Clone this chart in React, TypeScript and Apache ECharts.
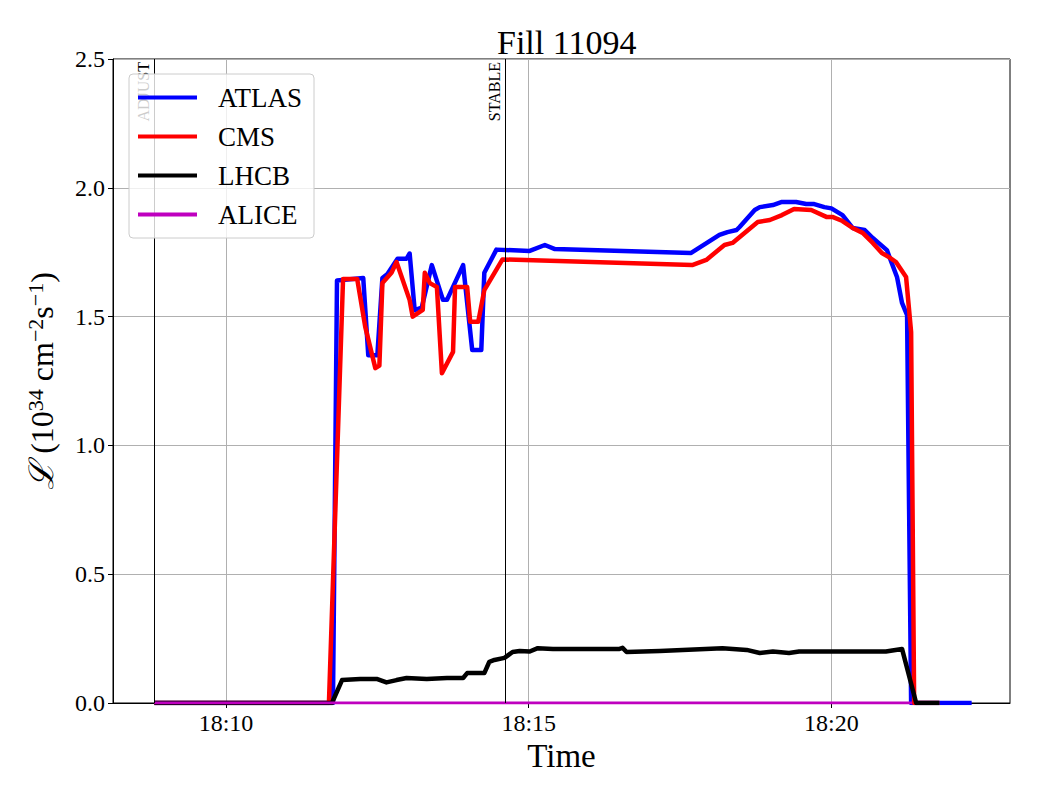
import React, { useEffect, useRef } from "react";
import * as echarts from "echarts";

const FONT = "'Liberation Serif', 'DejaVu Serif', 'Times New Roman', serif";

const chartTitle = "Fill 11094";
const xTickLabels = ["18:10", "18:15", "18:20"];
const yTicks = [0, 0.5, 1.0, 1.5, 2.0, 2.5];

const modeLines = ["ADJUST", "STABLE"];
const modeTimes = ["18:08:49", "18:14:37"];

const atlasTime = [
  "18:08:49", "18:11:46", "18:11:50", "18:12:16", "18:12:21", "18:12:30", "18:12:35", "18:12:40",
  "18:12:50", "18:12:59", "18:13:02", "18:13:07", "18:13:14", "18:13:24", "18:13:35", "18:13:39",
  "18:13:55", "18:14:04", "18:14:13", "18:14:16", "18:14:28", "18:15:01", "18:15:16", "18:15:26",
  "18:17:41", "18:18:09", "18:18:17", "18:18:26", "18:18:29", "18:18:44", "18:18:49", "18:19:02",
  "18:19:11", "18:19:25", "18:19:35", "18:19:43", "18:19:53", "18:20:00", "18:20:11", "18:20:21",
  "18:20:33", "18:20:41", "18:20:55", "18:21:05", "18:21:10", "18:21:15", "18:21:19", "18:22:19",
];
const atlasLumi = [
  0, 0, 1.64, 1.65, 1.35, 1.35, 1.65, 1.665,
  1.725, 1.725, 1.745, 1.525, 1.535, 1.70, 1.565, 1.565,
  1.70, 1.37, 1.37, 1.67, 1.76, 1.755, 1.778, 1.762,
  1.747, 1.817, 1.828, 1.836, 1.848, 1.914, 1.925, 1.933,
  1.945, 1.945, 1.937, 1.937, 1.925, 1.92, 1.894, 1.844,
  1.836, 1.805, 1.758, 1.654, 1.553, 1.506, 0, 0,
];

const cmsTime = [
  "18:08:49", "18:11:42", "18:11:56", "18:12:10", "18:12:18", "18:12:28", "18:12:32", "18:12:35",
  "18:12:44", "18:12:49", "18:13:02", "18:13:05", "18:13:15", "18:13:17", "18:13:22", "18:13:29",
  "18:13:34", "18:13:45", "18:13:47", "18:13:59", "18:14:02", "18:14:10", "18:14:16", "18:14:34",
  "18:17:42", "18:17:56", "18:18:14", "18:18:22", "18:18:47", "18:18:59", "18:19:11", "18:19:23",
  "18:19:40", "18:19:55", "18:20:01", "18:20:11", "18:20:21", "18:20:31", "18:20:41", "18:20:50",
  "18:20:57", "18:21:04", "18:21:14", "18:21:19", "18:21:22", "18:21:47",
];
const cmsLumi = [
  0, 0, 1.646, 1.646, 1.46, 1.30, 1.31, 1.63,
  1.67, 1.712, 1.564, 1.50, 1.526, 1.67, 1.63, 1.615,
  1.28, 1.363, 1.615, 1.615, 1.48, 1.48, 1.603, 1.722,
  1.70, 1.72, 1.778, 1.786, 1.867, 1.875, 1.894, 1.918,
  1.914, 1.887, 1.887, 1.871, 1.844, 1.825, 1.786, 1.747,
  1.731, 1.712, 1.654, 1.44, 0, 0,
];

const lhcbTime = [
  "18:08:49", "18:11:45", "18:11:55", "18:12:13", "18:12:30", "18:12:39", "18:12:49", "18:12:59",
  "18:13:19", "18:13:39", "18:13:55", "18:13:59", "18:14:16", "18:14:21", "18:14:26", "18:14:36",
  "18:14:44", "18:14:51", "18:15:01", "18:15:09", "18:15:24", "18:16:03", "18:16:30", "18:16:33",
  "18:16:37", "18:17:10", "18:18:12", "18:18:36", "18:18:49", "18:19:02", "18:19:18", "18:19:28",
  "18:20:54", "18:21:10", "18:21:24", "18:21:47",
];
const lhcbLumi = [
  0, 0, 0.089, 0.093, 0.093, 0.08, 0.089, 0.097,
  0.093, 0.097, 0.097, 0.116, 0.116, 0.16, 0.167, 0.175,
  0.198, 0.202, 0.2, 0.213, 0.21, 0.21, 0.21, 0.214,
  0.198, 0.202, 0.213, 0.206, 0.194, 0.2, 0.194, 0.2,
  0.2, 0.21, 0, 0,
];

const aliceTime = ["18:08:49", "18:21:20"];
const aliceLumi = [0, 0];

const toSec = (t: string) => {
  const [h, m, s] = t.split(":").map(Number);
  return (h - 18) * 3600 + m * 60 + s;
};
const pairs = (ts: string[], vs: number[]) => ts.map((t, i) => [toSec(t), vs[i]]);
const xTickValues = xTickLabels.map((t) => toSec(t + ":00"));
const fmtTime = (v: number) => "18:" + String(Math.floor(v / 60)).padStart(2, "0");

export default function App() {
  const ref = useRef<HTMLDivElement>(null);
  useEffect(() => {
    if (!ref.current) return;
    const chart = echarts.init(ref.current, undefined, { renderer: "svg" });
    const line = (name: string, color: string, data: number[][], width: number, extra: any = {}) => ({
      name,
      type: "line",
      data,
      symbol: "none",
      showSymbol: false,
      lineStyle: { color, width, join: "round" },
      itemStyle: { color },
      emphasis: { disabled: true },
      ...extra,
    });
    chart.setOption({
      animation: false,
      textStyle: { fontFamily: FONT },
      title: {
        text: chartTitle,
        left: 492,
        top: 20,
        textStyle: { fontFamily: FONT, fontSize: 34, fontWeight: "normal", color: "#000" },
      },
      legend: {
        orient: "vertical",
        left: 129,
        top: 74,
        z: 20,
        data: ["ATLAS", "CMS", "LHCB", "ALICE"],
        icon: "rect",
        itemWidth: 59,
        itemHeight: 4,
        itemGap: 12,
        padding: [10, 12, 10, 9],
        backgroundColor: "rgba(255,255,255,0.8)",
        borderColor: "#cccccc",
        borderWidth: 1,
        borderRadius: 4,
        textStyle: { fontFamily: FONT, fontSize: 27, color: "#000", lineHeight: 27, padding: [0, 0, 0, 16] },
      },
      grid: { left: 113, right: 30, top: 59, bottom: 97, show: true, borderColor: "#000", borderWidth: 1 },
      xAxis: {
        type: "value",
        min: 488,
        max: 1377,
        name: "Time",
        nameLocation: "middle",
        nameGap: 31,
        nameTextStyle: { fontFamily: FONT, fontSize: 33, color: "#000" },
        axisLine: { lineStyle: { color: "#000" } },
        axisTick: { show: true, length: 5, customValues: xTickValues, lineStyle: { color: "#000" } },
        axisLabel: {
          customValues: xTickValues,
          formatter: fmtTime,
          fontFamily: FONT,
          fontSize: 24,
          color: "#000",
          margin: 8,
        },
        splitLine: { show: true, lineStyle: { color: "#b0b0b0", width: 1 } },
      },
      yAxis: {
        type: "value",
        min: yTicks[0],
        max: yTicks[yTicks.length - 1],
        interval: 0.5,
        name: "{l|ℒ} {n|(10}{s|34}{n| cm}{s|−2}{n|s}{s|−1}{n|)}",
        nameLocation: "middle",
        nameGap: 54,
        nameRotate: 90,
        nameTextStyle: {
          fontFamily: FONT,
          fontSize: 32,
          color: "#000",
          rich: {
            l: { fontFamily: FONT, fontSize: 34, fontStyle: "italic", color: "#000" },
            n: { fontFamily: FONT, fontSize: 32, color: "#000" },
            s: { fontFamily: FONT, fontSize: 22, color: "#000", padding: [0, 0, 13, 0] },
          },
        },
        axisLine: { show: true, lineStyle: { color: "#000" } },
        axisTick: { show: true, length: 5, lineStyle: { color: "#000" } },
        axisLabel: {
          formatter: (v: number) => v.toFixed(1),
          fontFamily: FONT,
          fontSize: 24,
          color: "#000",
          margin: 8,
        },
        splitLine: { show: true, lineStyle: { color: "#b0b0b0", width: 1 } },
      },
      series: [
        line("ATLAS", "#0000ff", pairs(atlasTime, atlasLumi), 4.5),
        line("CMS", "#ff0000", pairs(cmsTime, cmsLumi), 4.5),
        line("LHCB", "#000000", pairs(lhcbTime, lhcbLumi), 4.5),
        line("ALICE", "#bf00bf", pairs(aliceTime, aliceLumi), 3, {
          markLine: {
            silent: true,
            symbol: "none",
            lineStyle: { color: "#000", width: 1, type: "solid" },
            label: {
              show: true,
              position: "insideEndTop",
              distance: 3,
              fontFamily: FONT,
              fontSize: 16,
              color: "#000",
              formatter: (p: any) => p.name,
            },
            data: modeLines.map((n, i) => ({ name: n, xAxis: toSec(modeTimes[i]) })),
          },
        }),
      ],
    });
    return () => chart.dispose();
  }, []);
  return <div ref={ref} style={{ position: "absolute", left: 0, top: 0, width: 1040, height: 800 }} />;
}
